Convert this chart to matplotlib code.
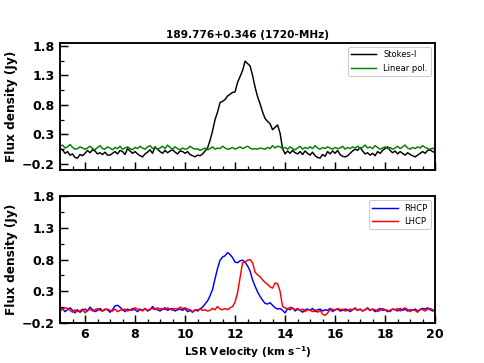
import numpy as np
import matplotlib
matplotlib.use("Agg")
import matplotlib.pyplot as plt
from matplotlib.ticker import FixedLocator, MultipleLocator

plt.rcParams["font.weight"] = "bold"
plt.rcParams["axes.labelweight"] = "bold"
plt.rcParams["axes.titleweight"] = "bold"

# channel grid (km/s)
vel = np.round(np.arange(5.0, 20.05, 0.1), 1)

stokes_i = [
    0.06, 0.04, -0.02, 0.01, -0.05, -0.03, -0.09, -0.10, -0.04, -0.06,
    -0.02, 0.03, -0.01, 0.04, 0.02, -0.03, -0.01, -0.04, 0.00, -0.05,
    -0.05, -0.02, 0.01, -0.03, 0.03, 0.01, -0.04, 0.06, 0.02, -0.02,
    0.01, -0.03, -0.06, -0.08, -0.03, 0.00, 0.04, -0.02, 0.09, 0.05,
    0.01, -0.02, 0.03, -0.01, 0.02, 0.04, 0.00, -0.03, 0.02, 0.01,
    -0.02, 0.01, -0.04, -0.06, -0.08, -0.05, -0.06, -0.03, 0.02, 0.07,
    0.20, 0.36, 0.55, 0.68, 0.84, 0.86, 0.89, 0.95, 0.98, 1.01,
    1.02, 1.18, 1.28, 1.38, 1.54, 1.50, 1.46, 1.30, 1.10, 0.94,
    0.82, 0.68, 0.57, 0.52, 0.48, 0.38, 0.42, 0.46, 0.32, 0.06,
    -0.03, 0.02, -0.02, 0.03, -0.01, -0.03, 0.01, -0.04, 0.02, -0.02,
    -0.05, 0.00, -0.06, -0.09, -0.10, -0.04, -0.07, 0.01, -0.03, 0.02,
    -0.02, 0.03, -0.04, -0.07, -0.08, -0.06, -0.02, 0.02, 0.05, 0.03,
    0.08, 0.02, -0.03, -0.01, -0.05, -0.02, -0.06, 0.01, -0.02, 0.03,
    0.06, 0.09, 0.03, -0.01, 0.02, -0.03, 0.01, -0.02, -0.05, -0.01,
    -0.04, -0.06, -0.08, -0.05, -0.02, 0.01, -0.02, 0.03, 0.04, 0.01,
    -0.01]

linear_pol = [
    0.10, 0.12, 0.07, 0.09, 0.13, 0.08, 0.05, 0.06, 0.09, 0.07,
    0.05, 0.07, 0.10, 0.06, 0.04, 0.08, 0.11, 0.06, 0.05, 0.09,
    0.07, 0.04, 0.08, 0.06, 0.10, 0.05, 0.07, 0.09, 0.06, 0.04,
    0.08, 0.06, 0.10, 0.07, 0.05, 0.09, 0.11, 0.06, 0.08, 0.05,
    0.07, 0.10, 0.06, 0.12, 0.08, 0.05, 0.09, 0.06, 0.04, 0.07,
    0.05, 0.06, 0.10, 0.07, 0.05, 0.06, 0.03, 0.05, 0.07, 0.04,
    0.06, 0.09, 0.05, 0.07, 0.06, 0.10, 0.07, 0.05, 0.06, 0.08,
    0.05, 0.07, 0.09, 0.06, 0.08, 0.10, 0.07, 0.05, 0.06, 0.05,
    0.07, 0.06, 0.05, 0.08, 0.06, 0.11, 0.07, 0.10, 0.09, 0.06,
    0.08, 0.05, 0.09, 0.06, 0.04, 0.07, 0.10, 0.05, 0.08, 0.06,
    0.09, 0.06, 0.11, 0.07, 0.05, 0.08, 0.06, 0.09, 0.07, 0.05,
    0.08, 0.06, 0.07, 0.10, 0.05, 0.08, 0.06, 0.09, 0.07, 0.10,
    0.06, 0.08, 0.12, 0.07, 0.09, 0.06, 0.11, 0.08, 0.05, 0.07,
    0.09, 0.06, 0.08, 0.05, 0.07, 0.10, 0.06, 0.09, 0.12, 0.07,
    0.05, 0.08, 0.06, 0.09, 0.07, 0.11, 0.08, 0.06, 0.05, 0.07,
    0.04]

rhcp = [
    0.05, 0.03, -0.02, 0.01, 0.04, 0.00, -0.04, 0.01, -0.03, 0.00,
    0.02, -0.01, 0.05, 0.01, -0.02, 0.00, 0.03, -0.01, 0.02, 0.01,
    -0.03, 0.01, 0.07, 0.08, 0.05, 0.01, -0.02, 0.02, 0.00, 0.03,
    0.01, -0.02, 0.02, 0.00, 0.03, -0.01, 0.01, 0.06, 0.02, 0.01,
    -0.01, 0.02, 0.04, 0.00, 0.02, 0.03, -0.01, 0.01, 0.02, 0.00,
    0.03, -0.02, 0.00, -0.03, 0.01, -0.01, 0.02, 0.05, 0.10, 0.15,
    0.23, 0.33, 0.50, 0.66, 0.79, 0.84, 0.86, 0.91, 0.88, 0.83,
    0.76, 0.75, 0.78, 0.79, 0.76, 0.70, 0.62, 0.48, 0.38, 0.29,
    0.22, 0.16, 0.11, 0.10, 0.12, 0.08, 0.04, 0.02, 0.03, 0.00,
    -0.04, 0.03, 0.01, 0.04, -0.01, 0.02, 0.00, -0.03, 0.01, 0.02,
    0.00, 0.03, -0.02, 0.01, 0.02, -0.01, 0.01, 0.00, 0.03, -0.02,
    0.01, 0.02, -0.01, 0.00, 0.02, 0.01, -0.02, 0.01, 0.03, 0.00,
    0.02, -0.01, 0.01, 0.04, 0.00, 0.02, -0.02, 0.01, 0.03, 0.00,
    0.01, -0.02, 0.00, 0.02, 0.01, -0.01, 0.03, 0.00, 0.02, -0.01,
    0.01, 0.00, 0.02, -0.01, 0.01, 0.03, 0.02, 0.04, 0.01, -0.01,
    0.00]

lhcp = [
    -0.01, 0.02, 0.04, 0.03, 0.00, -0.03, 0.01, -0.02, -0.01, 0.02,
    -0.04, 0.00, 0.02, -0.01, 0.01, 0.03, 0.00, -0.01, 0.01, 0.02,
    0.00, -0.01, 0.02, -0.02, 0.00, 0.01, 0.02, -0.01, 0.01, 0.00,
    0.04, 0.02, 0.01, -0.01, 0.03, 0.00, 0.02, 0.03, 0.01, 0.04,
    0.02, 0.03, 0.01, 0.04, 0.02, 0.00, 0.03, 0.02, 0.05, 0.03,
    0.04, 0.02, 0.01, -0.02, 0.00, 0.01, 0.02, 0.00, 0.01, -0.01,
    0.00, 0.03, 0.01, 0.06, 0.02, 0.01, 0.03, 0.01, 0.04, 0.06,
    0.13, 0.28, 0.52, 0.75, 0.76, 0.79, 0.80, 0.75, 0.60, 0.56,
    0.53, 0.48, 0.44, 0.41, 0.37, 0.35, 0.43, 0.42, 0.30, 0.06,
    0.04, 0.02, 0.05, 0.03, 0.01, 0.03, 0.00, 0.02, -0.02, 0.01,
    0.00, -0.02, 0.01, -0.03, 0.00, -0.06, -0.08, -0.04, 0.01, 0.02,
    0.00, 0.03, 0.01, 0.02, -0.01, 0.00, 0.02, 0.01, 0.04, 0.00,
    0.02, -0.01, 0.01, 0.03, 0.00, 0.02, 0.01, -0.02, 0.00, 0.03,
    0.01, 0.00, -0.02, 0.02, 0.01, 0.03, -0.01, 0.02, 0.04, 0.01,
    -0.02, 0.01, 0.00, -0.03, 0.02, 0.01, -0.01, 0.02, 0.03, 0.01,
    0.00]

y_major = [-0.2, 0.3, 0.8, 1.3, 1.8]
y_minor = [0.05, 0.55, 1.05, 1.55]
x_major = [6, 8, 10, 12, 14, 16, 18, 20]

title = "189.776+0.346 (1720-MHz)"


def style_axis(ax, ylim):
    ax.set_xlim(5, 20)
    ax.set_ylim(*ylim)
    ax.xaxis.set_major_locator(FixedLocator(x_major))
    ax.xaxis.set_minor_locator(MultipleLocator(0.5))
    ax.yaxis.set_major_locator(FixedLocator(y_major))
    ax.yaxis.set_minor_locator(FixedLocator(y_minor))
    ax.yaxis.set_major_formatter(lambda v, p: f"{v:.1f}".replace("-", "\u2212"))
    ax.tick_params(which="major", direction="in", length=7.5, width=1.4,
                   labelsize=12, top=False, right=False, pad=5)
    ax.tick_params(which="minor", direction="in", length=4, width=1.2,
                   top=False, right=False)
    for sp in ax.spines.values():
        sp.set_linewidth(1.8)
    ax.set_ylabel("Flux density (Jy)", fontsize=11.5, labelpad=4)


fig = plt.figure(figsize=(6.4, 4.8), dpi=75.625)
ax1 = fig.add_axes([0.124, 0.532, 0.775, 0.350])
ax2 = fig.add_axes([0.124, 0.110, 0.775, 0.350])

leg_font = {"size": 8, "weight": "normal"}

ax1.plot(vel, stokes_i, color="black", lw=1.4, label="Stokes-I")
ax1.plot(vel, linear_pol, color="green", lw=1.4, label="Linear pol.")
style_axis(ax1, (-0.3, 1.85))
ax1.tick_params(axis="x", labelbottom=False)
ax1.set_title(title, fontsize=10, pad=5)
ax1.legend(loc="upper right", prop=leg_font, handlelength=3, framealpha=1)

ax2.plot(vel, rhcp, color="blue", lw=1.4, label="RHCP")
ax2.plot(vel, lhcp, color="red", lw=1.4, label="LHCP")
style_axis(ax2, (-0.2, 1.8))
ax2.set_xlabel("LSR Velocity (km s$^{-1}$)", fontsize=10, labelpad=3)
ax2.legend(loc="upper right", prop=leg_font, handlelength=3, framealpha=1)

fig.savefig("out.png", dpi=75.625)
